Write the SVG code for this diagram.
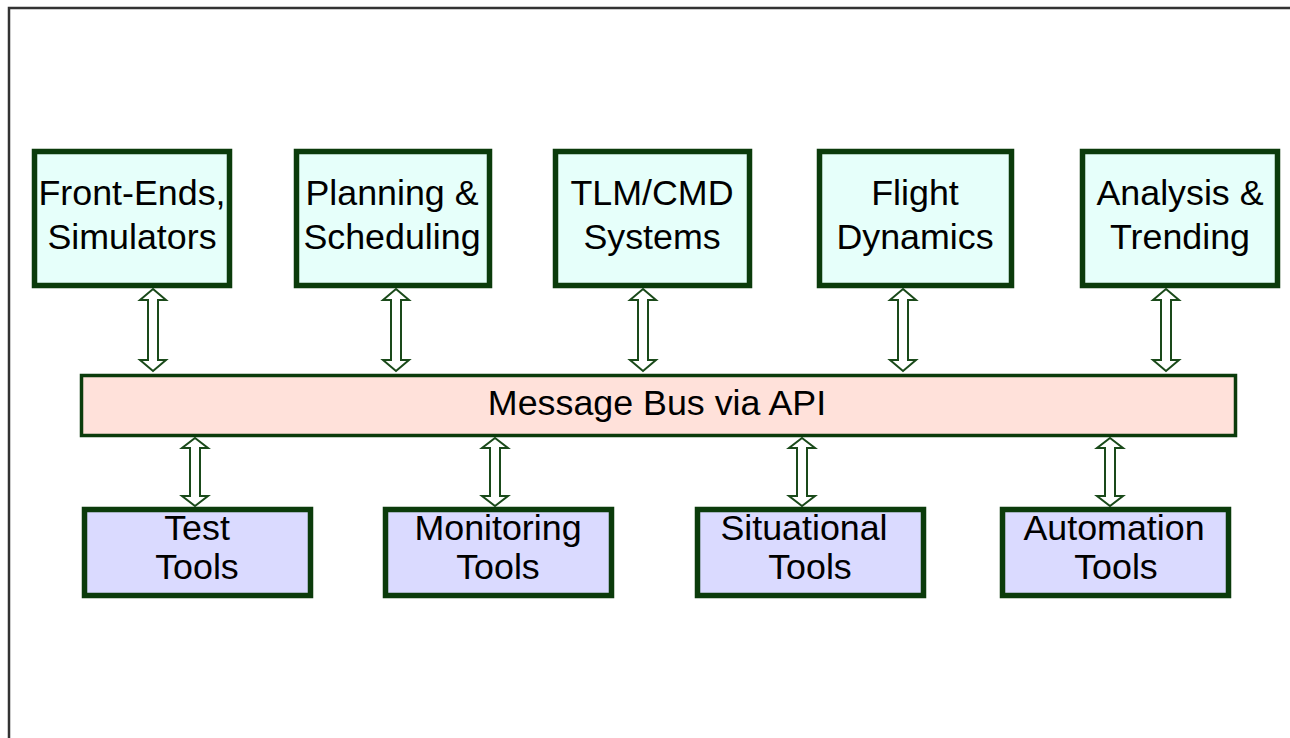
<svg xmlns="http://www.w3.org/2000/svg" xmlns:xlink="http://www.w3.org/1999/xlink" width="1290" height="738" viewBox="0 0 1290 738">
<style>
.top{fill:#e6fffa;stroke:#0b3b0b;stroke-width:5.5}
.bot{fill:#dadaff;stroke:#0b3b0b;stroke-width:5.5}
.bus{fill:#ffe1da;stroke:#0b3b0b;stroke-width:3.5}
.arr{fill:#ffffff;stroke:#1a4a1a;stroke-width:2;stroke-linejoin:miter}
text{font-family:"Liberation Sans",Arial,sans-serif;font-size:35.8px;fill:#000;text-anchor:middle}
</style>
<defs>
<polygon id="arrTop" class="arr" points="0,0 13,11 5,11 5,71 13,71 0,82 -13,71 -5,71 -5,11 -13,11"/>
<polygon id="arrBot" class="arr" points="0,0 13,10 5,10 5,58 13,58 0,68 -13,58 -5,58 -5,10 -13,10"/>
</defs>
<rect width="1290" height="738" fill="#ffffff"/>
<path d="M9,738 V8 H1290" fill="none" stroke="#333333" stroke-width="2.5"/>

<g id="connectors">
<use xlink:href="#arrTop" x="153" y="289"/>
<use xlink:href="#arrTop" x="396" y="289"/>
<use xlink:href="#arrTop" x="643" y="289"/>
<use xlink:href="#arrTop" x="903" y="289"/>
<use xlink:href="#arrTop" x="1166" y="289"/>
<use xlink:href="#arrBot" x="195" y="438"/>
<use xlink:href="#arrBot" x="495" y="438"/>
<use xlink:href="#arrBot" x="802" y="438"/>
<use xlink:href="#arrBot" x="1110" y="438"/>
</g>

<g id="front-ends">
<rect class="top" x="34.5" y="151.5" width="195" height="134"/>
<text x="132" y="205">Front-Ends,</text>
<text x="132" y="249">Simulators</text>
</g>
<g id="planning">
<rect class="top" x="296.5" y="151.5" width="193" height="134"/>
<text x="392" y="205">Planning &amp;</text>
<text x="392" y="249">Scheduling</text>
</g>
<g id="tlm-cmd">
<rect class="top" x="555.5" y="151.5" width="194" height="134"/>
<text x="652" y="205">TLM/CMD</text>
<text x="652" y="249">Systems</text>
</g>
<g id="flight-dynamics">
<rect class="top" x="819.5" y="151.5" width="192" height="134"/>
<text x="915" y="205">Flight</text>
<text x="915" y="249">Dynamics</text>
</g>
<g id="analysis">
<rect class="top" x="1082.5" y="151.5" width="195" height="134"/>
<text x="1180" y="205">Analysis &amp;</text>
<text x="1180" y="249">Trending</text>
</g>

<g id="message-bus">
<rect class="bus" x="81.5" y="375.5" width="1154" height="60"/>
<text x="657" y="415">Message Bus via API</text>
</g>

<g id="test-tools">
<rect class="bot" x="84.5" y="509.5" width="226" height="86"/>
<text x="197" y="540">Test</text>
<text x="197" y="579">Tools</text>
</g>
<g id="monitoring-tools">
<rect class="bot" x="385.5" y="509.5" width="226" height="86"/>
<text x="498" y="540">Monitoring</text>
<text x="498" y="579">Tools</text>
</g>
<g id="situational-tools">
<rect class="bot" x="697.5" y="509.5" width="226" height="86"/>
<text x="804" y="540">Situational</text>
<text x="810" y="579">Tools</text>
</g>
<g id="automation-tools">
<rect class="bot" x="1002.5" y="509.5" width="226" height="86"/>
<text x="1114" y="540">Automation</text>
<text x="1116" y="579">Tools</text>
</g>
</svg>
